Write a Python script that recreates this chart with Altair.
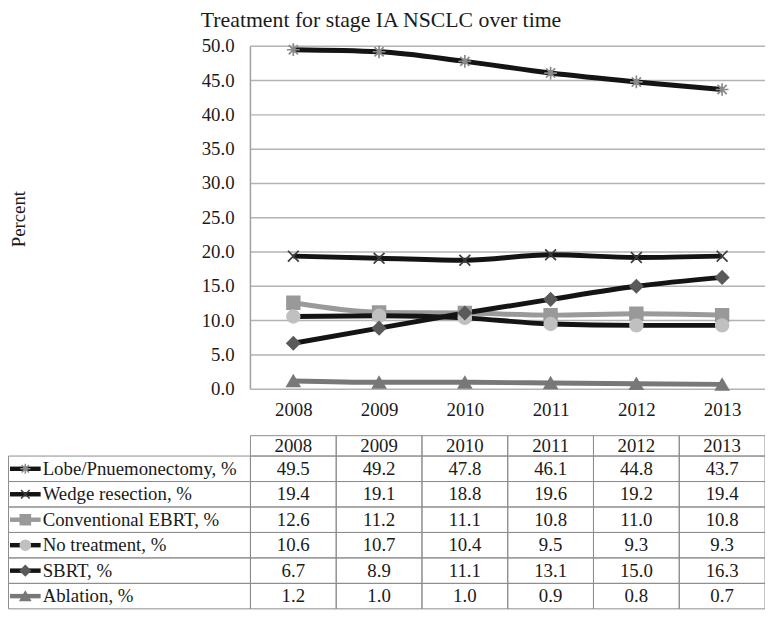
import altair as alt
import pandas as pd

# ---------------- data ----------------
years = [2008, 2009, 2010, 2011, 2012, 2013]
series = ["Lobe/Pnuemonectomy, %", "Wedge resection, %", "Conventional EBRT, %",
          "No treatment, %", "SBRT, %", "Ablation, %"]
lobe = [49.5, 49.2, 47.8, 46.1, 44.8, 43.7]
wedge = [19.4, 19.1, 18.8, 19.6, 19.2, 19.4]
ebrt = [12.6, 11.2, 11.1, 10.8, 11.0, 10.8]
no_treatment = [10.6, 10.7, 10.4, 9.5, 9.3, 9.3]
sbrt = [6.7, 8.9, 11.1, 13.1, 15.0, 16.3]
ablation = [1.2, 1.0, 1.0, 0.9, 0.8, 0.7]
y_ticks = [0, 5, 10, 15, 20, 25, 30, 35, 40, 45, 50]
chart_title = "Treatment for stage IA NSCLC over time"
y_title = "Percent"

values = [lobe, wedge, ebrt, no_treatment, sbrt, ablation]

# ---------------- styles ----------------
FONT = "Liberation Serif"
TXT = "#1a1a1a"
GRID = "#b3b3b3"
line_colors = ["#141414", "#141414", "#9a9a9a", "#141414", "#141414", "#787878"]
marker_colors = ["#8a8a8a", "#3c3c3c", "#999999", "#c0c0c0", "#5a5a5a", "#787878"]
ASTER = "M-1,0L1,0M0,-1L0,1M-0.72,-0.72L0.72,0.72M-0.72,0.72L0.72,-0.72"
XMARK = "M-0.85,-0.85L0.85,0.85M-0.85,0.85L0.85,-0.85"
shapes = [ASTER, XMARK, "square", "circle", "diamond", "triangle-up"]

# ---------------- layout ----------------
PLOT_W, PLOT_H = 520, 346.5
PAD_L, PAD_T = 245, 35.5
SVG_H = 606
COL_W = PLOT_W / len(years)
ORIGIN_X = 8 + PAD_L
Y0_PAGE = 8 + PAD_T + PLOT_H
PX_PER_UNIT = PLOT_H / (y_ticks[-1] - y_ticks[0])


def px_to_x(page_px):
    return (page_px - ORIGIN_X) / COL_W - 0.5


HEAD_TOP = -0.8
TABLE_TOP_PAGE, TABLE_BOTTOM_PAGE = 437, 612
ROW_PX = (TABLE_BOTTOM_PAGE - TABLE_TOP_PAGE) / (len(series) - HEAD_TOP)


def row_to_y(u):
    page = TABLE_TOP_PAGE + (u - HEAD_TOP) * ROW_PX
    return (Y0_PAGE - page) / PX_PER_UNIT


TABLE_LEFT = px_to_x(8.5)
SYM_X0, SYM_X1, SYM_MID, LABEL_X = px_to_x(10), px_to_x(41), px_to_x(25.5), px_to_x(43)
YTITLE_X = px_to_x(19)

# ---------------- frames ----------------
long_rows = []
for r, (s, vals) in enumerate(zip(series, values), start=1):
    for i, (yr, v) in enumerate(zip(years, vals)):
        long_rows.append({"series": s, "year": yr, "xi": i, "value": v,
                          "ty": row_to_y(r - 0.5), "txt": f"{v:.1f}"})
long_df = pd.DataFrame(long_rows)

label_df = pd.DataFrame({"series": series,
                         "ty": [row_to_y(r - 0.5) for r in range(1, len(series) + 1)]})
head_df = pd.DataFrame({"xi": list(range(len(years))),
                        "ty": [row_to_y(HEAD_TOP / 2)] * len(years),
                        "txt": [str(y) for y in years]})
grid_df = pd.DataFrame({"tick": y_ticks})
ytitle_df = pd.DataFrame({"t": [y_title], "xp": [YTITLE_X],
                          "yp": [(y_ticks[0] + y_ticks[-1]) / 2 - 0.2]})

cells = []
for i in range(len(years)):
    cells.append({"x0": i - 0.5, "x1": i + 0.5, "y0": row_to_y(HEAD_TOP), "y1": row_to_y(0)})
for r in range(1, len(series) + 1):
    cells.append({"x0": TABLE_LEFT, "x1": -0.5, "y0": row_to_y(r - 1), "y1": row_to_y(r)})
    for i in range(len(years)):
        cells.append({"x0": i - 0.5, "x1": i + 0.5, "y0": row_to_y(r - 1), "y1": row_to_y(r)})
cell_df = pd.DataFrame(cells)

# ---------------- scales ----------------
x_scale = alt.Scale(domain=[-0.5, len(years) - 0.5], nice=False, zero=False)
y_scale = alt.Scale(domain=[y_ticks[0], y_ticks[-1]], nice=False, zero=False)
color_scale = alt.Scale(domain=series, range=line_colors)
mfill_scale = alt.Scale(domain=series, range=marker_colors)
shape_scale = alt.Scale(domain=series, range=shapes)

year_label_expr = f"{years}[datum.value]"

x_axis = alt.Axis(values=list(range(len(years))), labelExpr=year_label_expr, grid=False,
                  ticks=False, domain=False, labelPadding=12, labelFont=FONT,
                  labelFontSize=19, labelColor=TXT, title=None, labelOverlap=False)

base = alt.Chart(long_df)

grid = alt.Chart(grid_df).mark_rule(color=GRID, strokeWidth=1.5).encode(
    x=alt.datum(-0.5), x2=alt.datum(len(years) - 0.5),
    y=alt.Y("tick:Q", scale=y_scale, axis=None),
)

y_domain = alt.Chart(grid_df).mark_rule(color="#a0a0a0", strokeWidth=1.5).encode(
    x=alt.datum(-0.5),
    y=alt.Y("min(tick):Q", axis=None), y2=alt.Y2("max(tick):Q"),
)

y_labels = alt.Chart(grid_df).mark_text(font=FONT, fontSize=19, color=TXT, align="right",
                                        baseline="middle", dx=-16).encode(
    x=alt.datum(-0.5),
    y=alt.Y("tick:Q", axis=None),
    text=alt.Text("tick:Q", format=".1f"),
)

y_title_mark = alt.Chart(ytitle_df).mark_text(font=FONT, fontSize=19, color=TXT, angle=270,
                                              align="center", baseline="middle").encode(
    x=alt.X("xp:Q"),
    y=alt.Y("yp:Q", axis=None),
    text="t:N",
)

lines = base.mark_line(strokeWidth=5, interpolate="monotone").encode(
    x=alt.X("xi:Q", scale=x_scale, axis=x_axis),
    y=alt.Y("value:Q", axis=None),
    color=alt.Color("series:N", scale=color_scale, legend=None),
)

points = base.mark_point(filled=True, size=165, strokeWidth=1.7, opacity=1).encode(
    x=alt.X("xi:Q"),
    y=alt.Y("value:Q", axis=None),
    fill=alt.Fill("series:N", scale=mfill_scale, legend=None),
    stroke=alt.Stroke("series:N", scale=mfill_scale, legend=None),
    shape=alt.Shape("series:N", scale=shape_scale, legend=None),
)

rects = alt.Chart(cell_df).mark_rect(fillOpacity=0, stroke="#8c8c8c", strokeWidth=1).encode(
    x=alt.X("x0:Q"), x2="x1:Q",
    y=alt.Y("y0:Q", axis=None), y2="y1:Q",
)

head_text = alt.Chart(head_df).mark_text(font=FONT, fontSize=19, color=TXT, baseline="middle").encode(
    x=alt.X("xi:Q"), y=alt.Y("ty:Q", axis=None), text="txt:N",
)

val_text = base.mark_text(font=FONT, fontSize=19, color=TXT, baseline="middle").encode(
    x=alt.X("xi:Q"), y=alt.Y("ty:Q", axis=None), text="txt:N",
)

lab_text = alt.Chart(label_df).mark_text(font=FONT, fontSize=19, color=TXT, baseline="middle",
                                         align="left").encode(
    x=alt.datum(LABEL_X), y=alt.Y("ty:Q", axis=None), text="series:N",
)

sym_line = alt.Chart(label_df).mark_rule(strokeWidth=4.5).encode(
    x=alt.datum(SYM_X0), x2=alt.datum(SYM_X1),
    y=alt.Y("ty:Q", axis=None),
    color=alt.Color("series:N", scale=color_scale, legend=None),
)

sym_pt = alt.Chart(label_df).mark_point(filled=True, size=105, strokeWidth=1.5, opacity=1).encode(
    x=alt.datum(SYM_MID),
    y=alt.Y("ty:Q", axis=None),
    fill=alt.Fill("series:N", scale=mfill_scale, legend=None),
    stroke=alt.Stroke("series:N", scale=mfill_scale, legend=None),
    shape=alt.Shape("series:N", scale=shape_scale, legend=None),
)

chart = alt.layer(grid, y_domain, y_labels, y_title_mark, lines, points,
                  rects, head_text, val_text, lab_text, sym_line, sym_pt).properties(
    width=PLOT_W, height=PLOT_H,
    padding={"left": PAD_L, "top": PAD_T, "right": 0, "bottom": SVG_H - PAD_T - PLOT_H},
    autosize=alt.AutoSizeParams(type="none"),
    title=alt.TitleParams(chart_title, font=FONT, fontSize=22, fontWeight="normal", color=TXT,
                          anchor="middle", dx=385 - (ORIGIN_X + PLOT_W / 2), offset=5),
    background="white",
).configure(font=FONT).configure_view(stroke=None)

chart.save("out.html", embed_options={"renderer": "svg", "actions": False})
